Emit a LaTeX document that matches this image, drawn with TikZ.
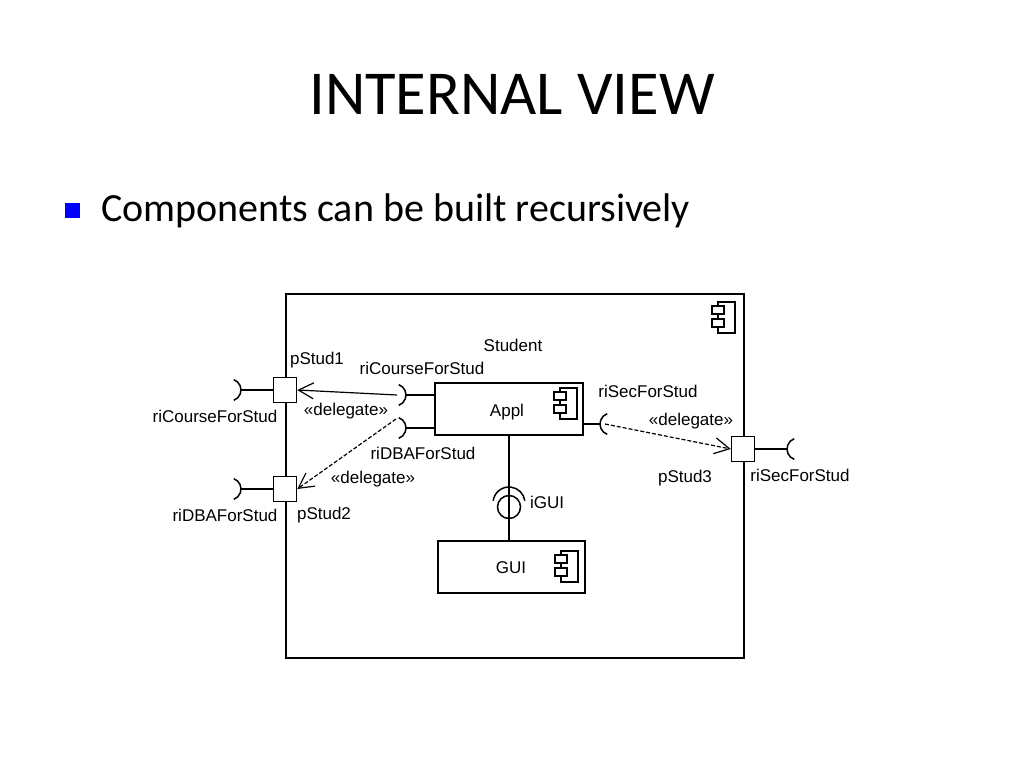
\documentclass[tikz,border=0pt]{standalone}
\usepackage{fontspec}
\setmainfont{Carlito}
\newfontfamily\uml{Liberation Sans}
\usetikzlibrary{arrows.meta}
\tikzset{
  lbl/.style={font=\uml\fontsize{17}{19}\selectfont, inner sep=0pt},
  box/.style={draw, line width=1.5pt, inner sep=0pt, fill=white},
  port/.style={draw, line width=1.5pt, fill=white, minimum width=23pt, minimum height=25pt, inner sep=0pt},
  ln/.style={line width=1.5pt},
  deleg/.style={line width=1.2pt, dash pattern=on 4pt off 2pt, -{Straight Barb[length=15pt,width=16pt]}},
  delegsolid/.style={line width=1.2pt, -{Straight Barb[length=15pt,width=16pt]}},
  compicon/.pic={
    \draw[line width=1.2pt] (6,0) rectangle (23,31);
    \draw[line width=1.2pt, fill=white] (0,4) rectangle (12,12);
    \draw[line width=1.2pt, fill=white] (0,17) rectangle (12,25);
  }
}
\begin{document}
\begin{tikzpicture}[x=1pt,y=-1pt]
\useasboundingbox[fill=white] (0,0) rectangle (1024,768);
% title and bullet
\node[anchor=base, inner sep=0pt, font=\fontsize{62.5}{70}\selectfont] (title) at (512,114) {INTERNAL VIEW};
\node[fill=blue, minimum size=15pt, inner sep=0pt] (bul) at (72,210.5) {};
\node[anchor=base west, inner sep=0pt, font=\fontsize{40}{46}\selectfont] (btext) at (101,221) {Components can be built recursively};
% outer component
\node[box, anchor=north west, minimum width=458pt, minimum height=364pt] (student) at (285,293) {};
\pic at (712,302) {compicon};
\node[lbl] (studentlbl) at (513,345) {Student};
% inner components
\node[box, anchor=north west, minimum width=148pt, minimum height=52pt] (appl) at (434,382) {};
\node[lbl] (appltxt) at (507,412) {Appl};
\pic at (554,388) {compicon};
\node[box, anchor=north west, minimum width=147pt, minimum height=52pt] (gui) at (437,540) {};
\node[lbl] (guitxt) at (511,568) {GUI};
\pic at (555,551) {compicon};
% ports
\node[port] (p1) at (285,390) {};
\node[port] (p2) at (285,489) {};
\node[port] (p3) at (743,449) {};
% external sockets
\coordinate (s1) at (241,390);
\coordinate (s2) at (241,489);
\coordinate (s3) at (787,449);
\draw[ln] (p1.west) -- (s1);
\draw[ln] ([shift={(-11,0)}]s1) ++(-70:11) arc[start angle=-70,end angle=70,radius=11];
\draw[ln] (p2.west) -- (s2);
\draw[ln] ([shift={(-11,0)}]s2) ++(-70:11) arc[start angle=-70,end angle=70,radius=11];
\draw[ln] (p3.east) -- (s3);
\draw[ln] ([shift={(11,0)}]s3) ++(110:11) arc[start angle=110,end angle=250,radius=11];
% Appl sockets
\coordinate (a1) at (406,395);
\coordinate (a2) at (406,428);
\coordinate (a3) at (600,424);
\draw[ln] (a1) -- (a1 -| appl.west);
\draw[ln] ([shift={(-11,0)}]a1) ++(-70:11) arc[start angle=-70,end angle=70,radius=11];
\draw[ln] (a2) -- (a2 -| appl.west);
\draw[ln] ([shift={(-11,0)}]a2) ++(-70:11) arc[start angle=-70,end angle=70,radius=11];
\draw[ln] (a3) -- (a3 -| appl.east);
\draw[ln] ([shift={(11,0)}]a3) ++(110:11) arc[start angle=110,end angle=250,radius=11];
\coordinate (d1) at (397,395);
\coordinate (d2) at (396,419);
\coordinate (d3) at (605,424);
\draw[delegsolid] (d1) -- (p1.east);
\draw[deleg] (d2) -- (p2.east);
\draw[deleg] (d3) -- (p3.west);
% iGUI ball and socket
\node[draw, line width=1.5pt, circle, minimum size=23pt, inner sep=0pt] (ball) at (509,507) {};
\coordinate (sockc) at (509,503);
\draw[ln] (ball.north |- appl.south) -- ([yshift=-16]sockc);
\draw[ln] ([shift={(-172:16)}]sockc) arc[start angle=-172,end angle=-8,radius=16];
\draw[ln] (ball.south) -- (ball.south |- gui.north);
\node[lbl] (igui) at (547,502) {iGUI};
% labels
\node[lbl] (lp1) at (317,360) {pStud1};
\node[lbl] (lrc1) at (215,416) {riCourseForStud};
\node[lbl] (ldel1) at (346,411) {«delegate»};
\node[lbl] (lrc2) at (422,368) {riCourseForStud};
\node[lbl] (lrd2) at (423,453) {riDBAForStud};
\node[lbl] (ldel2) at (373,479) {«delegate»};
\node[lbl] (lrd1) at (225,515) {riDBAForStud};
\node[lbl] (lp2) at (324,515) {pStud2};
\node[lbl] (lrs2) at (648,391) {riSecForStud};
\node[lbl] (ldel3) at (691,421) {«delegate»};
\node[lbl] (lp3) at (685,478) {pStud3};
\node[lbl] (lrs1) at (800,475) {riSecForStud};
\end{tikzpicture}
\end{document}
